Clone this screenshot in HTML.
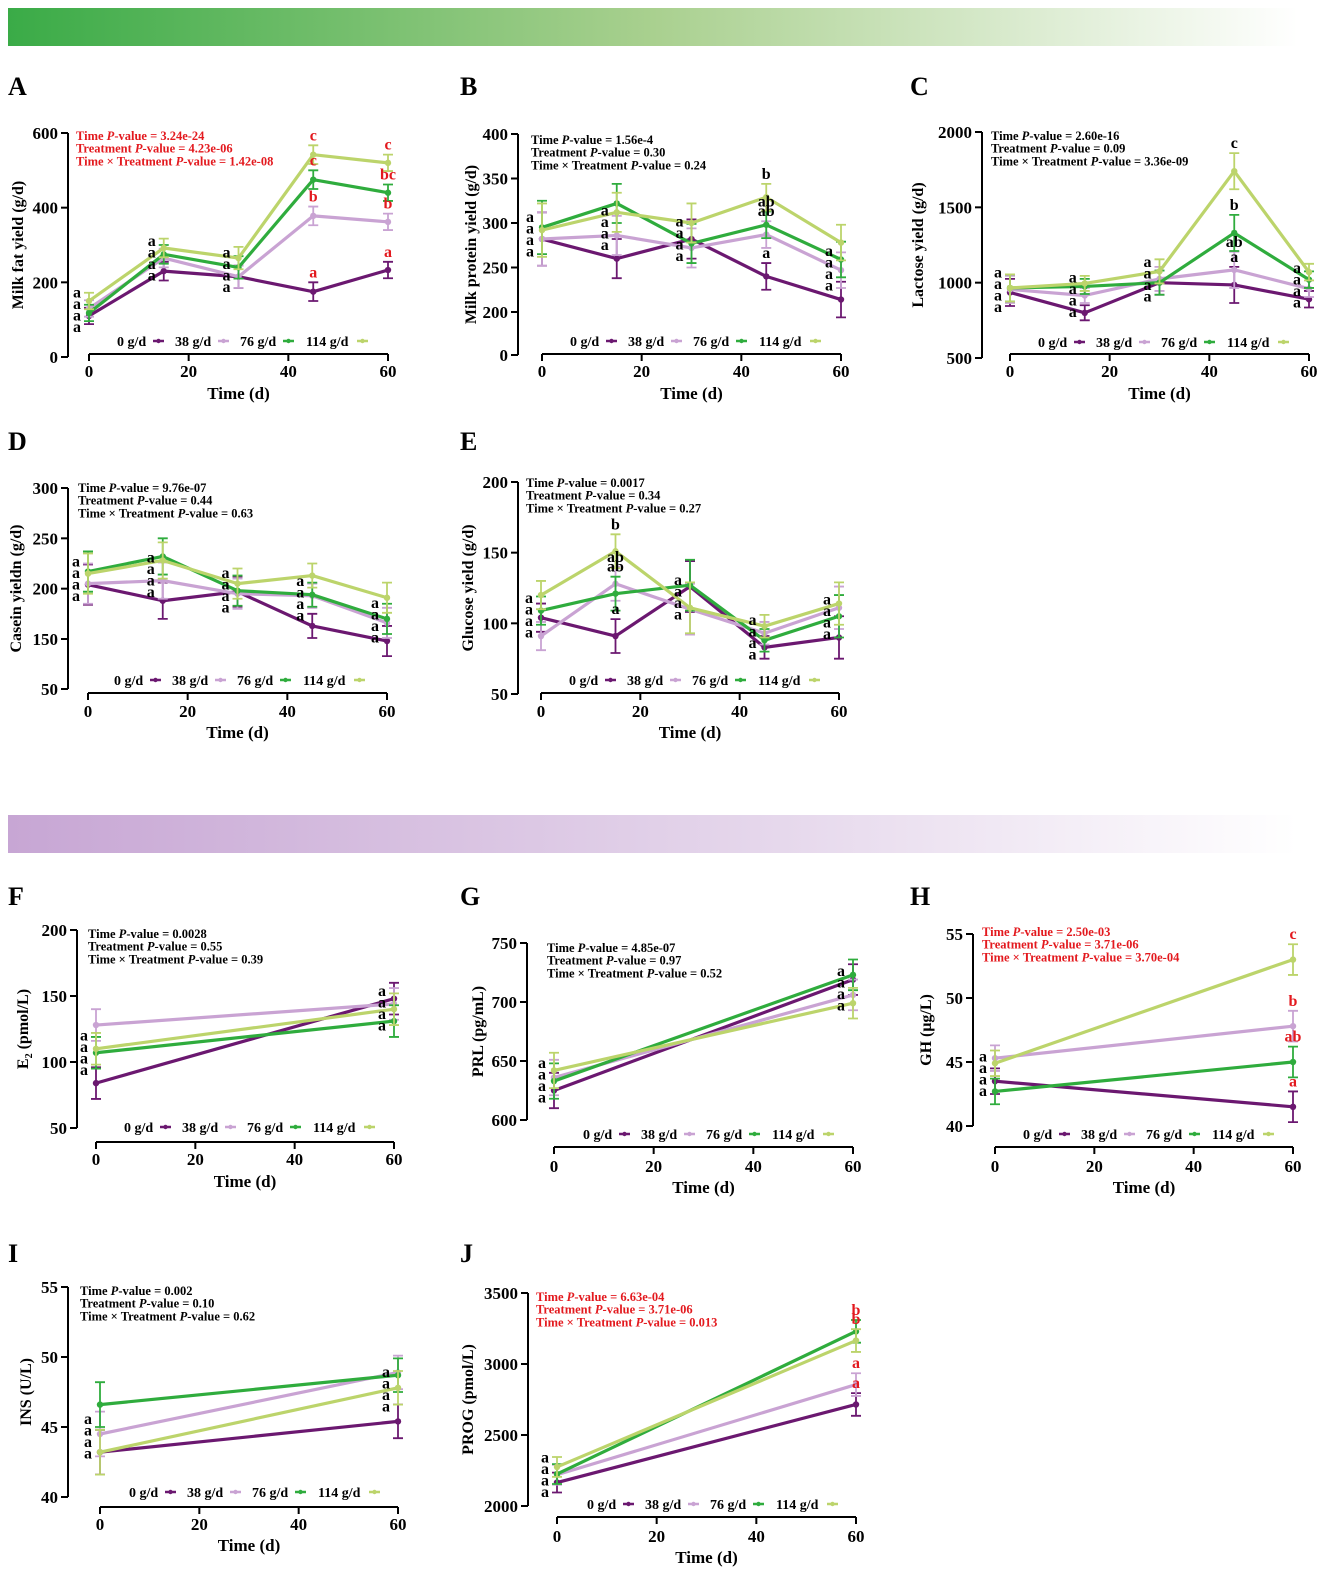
<!DOCTYPE html>
<html><head><meta charset="utf-8"><style>
body{margin:0;background:#fff;}
svg{display:block;font-family:"Liberation Serif",serif;font-weight:bold;}
</style></head><body>
<svg id="fig" width="1325" height="1574" viewBox="0 0 1325 1574" xmlns="http://www.w3.org/2000/svg">
<defs>
<linearGradient id="gG" x1="0" x2="1"><stop offset="0" stop-color="#3aab47"/><stop offset="0.5" stop-color="#a9d08f"/><stop offset="1" stop-color="#ffffff"/></linearGradient>
<linearGradient id="gP" x1="0" x2="1"><stop offset="0" stop-color="#c7a6d4"/><stop offset="0.6" stop-color="#e6d8ec"/><stop offset="1" stop-color="#ffffff"/></linearGradient>
</defs>
<rect x="8" y="8" width="1290" height="38" fill="url(#gG)"/>
<rect x="8" y="815" width="1290" height="38" fill="url(#gP)"/>
</svg>
<script>
// ---- data (series order: 0, 38, 76, 114 g/d) ----
const timesLong=[0,15,30,45,60];
const timesShort=[0,60];
const A0=[110,230,215,175,233];const A1=[130,265,215,378,362];const A2=[118,275,240,475,440];const A3=[150,292,265,542,520];
const AErr=[22,25,30,25,22];
const ALet=[["a","a","a","a"],["a","a","a","a"],["a","a","a","a"],["a","b","c","c"],["a","b","bc","c"]];
const B0=[282,260,282,240,214];const B1=[282,286,272,287,247];const B2=[295,322,277,298,259];const B3=[292,312,300,329,278];
const BErr=[30,22,22,15,20];
const BLet=[["a","a","a","a"],["a","a","a","a"],["a","a","a","a"],["a","ab","ab","b"],["a","a","a","a"]];
const C0=[935,800,1000,985,890];const C1=[955,915,1025,1085,960];const C2=[965,975,1000,1330,1020];const C3=[965,995,1075,1740,1070];
const CErr=[90,50,80,120,55];
const CLet=[["a","a","a","a"],["a","a","a","a"],["a","a","a","a"],["a","ab","b","c"],["a","a","a","a"]];
const D0=[204,188,197,163,148];const D1=[205,208,195,193,166];const D2=[217,232,198,194,170];const D3=[215,228,205,213,191];
const DErr=[20,18,15,12,15];
const DLet=[["a","a","a","a"],["a","a","a","a"],["a","a","a","a"],["a","a","a","a"],["a","a","a","a"]];
const E0=[104,91,126,83,90];const E1=[91,128,110,93,111];const E2=[109,121,127,88,105];const E3=[120,151,111,98,114];
const EErr=[10,12,18,8,15];
const ELet=[["a","a","a","a"],["a","ab","ab","b"],["a","a","a","a"],["a","a","a","a"],["a","a","a","a"]];
const F0=[84,148];const F1=[128,144];const F2=[107,131];const F3=[110,140];
const FErr=[12,12];
const FLet=[["a","a","a","a"],["a","a","a","a"]];
const G0=[625,719];const G1=[636,706];const G2=[633,723];const G3=[642,699];
const GErr=[15,13];
const GLet=[["a","a","a","a"],["a","a","a","a"]];
const H0=[43.5,41.5];const H1=[45.3,47.8];const H2=[42.7,45.0];const H3=[44.9,53.0];
const HErr=[1.0,1.2];
const HLet=[["a","a","a","a"],["a","b","ab","c"]];
const I0=[43.2,45.4];const I1=[44.5,48.9];const I2=[46.6,48.7];const I3=[43.2,47.8];
const IErr=[1.6,1.2];
const ILet=[["a","a","a","a"],["a","a","a","a"]];
const J0=[2165,2715];const J1=[2220,2855];const J2=[2225,3230];const J3=[2275,3165];
const JErr=[70,80];
const JLet=[["a","a","a","a"],["a","a","b","b"]];
const xTicks=[0,20,40,60];
const legendLabels=["0 g/d","38 g/d","76 g/d","114 g/d"];
const pvA=["3.24e-24","4.23e-06","1.42e-08"],pvB=["1.56e-4","0.30","0.24"],pvC=["2.60e-16","0.09","3.36e-09"],pvD=["9.76e-07","0.44","0.63"],pvE=["0.0017","0.34","0.27"],pvF=["0.0028","0.55","0.39"],pvG=["4.85e-07","0.97","0.52"],pvH=["2.50e-03","3.71e-06","3.70e-04"],pvI=["0.002","0.10","0.62"],pvJ=["6.63e-04","3.71e-06","0.013"];
const yTicksA=[0,200,400,600],yTicksB=[200,250,300,350,400],yTicksC=[500,1000,1500,2000],yTicksD=[150,200,250,300],yTicksE=[50,100,150,200],yTicksF=[50,100,150,200],yTicksG=[600,650,700,750],yTicksH=[40,45,50,55],yTicksI=[40,45,50,55],yTicksJ=[2000,2500,3000,3500];

const COLORS=["#6b1870","#c9a3d3","#2fac3d","#bcd46b"];
const RED="#e3191e";
const NS="http://www.w3.org/2000/svg";
const svg=document.getElementById('fig');
function mk(tag,attrs,parent){const e=document.createElementNS(NS,tag);for(const k in attrs)e.setAttribute(k,attrs[k]);(parent||svg).appendChild(e);return e;}

const panels=[
 {id:"A",letter:[8,95],times:timesLong,s:[A0,A1,A2,A3],err:AErr,lets:ALet,red:[3,4],pv:pvA,pvRed:true,yt:yTicksA,yx:68,yv:[0,600],yp:[357,133],bottom:357,xp:[89,388],xl:354,xlab:377,tt:399,ytitle:"Milk fat yield (g/d)",ytx:17,legX:117,legY:341,pvx:76,pvy:136},
 {id:"B",letter:[460,95],times:timesLong,s:[B0,B1,B2,B3],err:BErr,lets:BLet,red:[],pv:pvB,yt:yTicksB,yx:518,yv:[200,400],yp:[312,134],bottom:355,bottomLabel:"0",xp:[542,841],xl:354,xlab:377,tt:399,ytitle:"Milk protein yield (g/d)",ytx:470,legX:570,legY:341,pvx:531,pvy:140},
 {id:"C",letter:[910,95],times:timesLong,s:[C0,C1,C2,C3],err:CErr,lets:CLet,red:[],pv:pvC,yt:yTicksC,yx:982,yv:[500,2000],yp:[358,132],bottom:358,xp:[1010,1309],xl:354,xlab:377,tt:399,ytitle:"Lactose yield (g/d)",ytx:917,legX:1038,legY:342,pvx:991,pvy:136},
 {id:"D",letter:[8,450],times:timesLong,s:[D0,D1,D2,D3],err:DErr,lets:DLet,red:[],pv:pvD,yt:yTicksD,yx:68,yv:[150,300],yp:[639,488],bottom:689,bottomLabel:"50",xp:[88,387],xl:693,xlab:717,tt:738,ytitle:"Casein yieldn (g/d)",ytx:15,legX:114,legY:680,pvx:78,pvy:488},
 {id:"E",letter:[460,450],times:timesLong,s:[E0,E1,E2,E3],err:EErr,lets:ELet,red:[],pv:pvE,yt:yTicksE,yx:518,yv:[50,200],yp:[694,482],bottom:694,xp:[541,839],xl:693,xlab:717,tt:738,ytitle:"Glucose yield (g/d)",ytx:467,legX:569,legY:680,pvx:526,pvy:483},
 {id:"F",letter:[8,905],times:timesShort,s:[F0,F1,F2,F3],err:FErr,lets:FLet,red:[],pv:pvF,yt:yTicksF,yx:77,yv:[50,200],yp:[1128,930],bottom:1128,xp:[96,394],xl:1142,xlab:1165,tt:1187,ytitle:"E2",ytx:22,legX:124,legY:1127,pvx:88,pvy:934},
 {id:"G",letter:[460,905],times:timesShort,s:[G0,G1,G2,G3],err:GErr,lets:GLet,red:[],pv:pvG,yt:yTicksG,yx:527,yv:[600,750],yp:[1120,943],bottom:1120,xp:[554,853],xl:1147,xlab:1172,tt:1193,ytitle:"PRL (pg/mL)",ytx:477,legX:583,legY:1134,pvx:547,pvy:948},
 {id:"H",letter:[910,905],times:timesShort,s:[H0,H1,H2,H3],err:HErr,lets:HLet,red:[1],pv:pvH,pvRed:true,yt:yTicksH,yx:973,yv:[40,55],yp:[1126,934],bottom:1126,xp:[995,1293],xl:1147,xlab:1172,tt:1193,ytitle:"GH (μg/L)",ytx:925,legX:1023,legY:1134,pvx:982,pvy:932},
 {id:"I",letter:[8,1262],times:timesShort,s:[I0,I1,I2,I3],err:IErr,lets:ILet,red:[],pv:pvI,yt:yTicksI,yx:68,yv:[40,55],yp:[1497,1287],bottom:1497,xp:[100,398],xl:1507,xlab:1530,tt:1551,ytitle:"INS (U/L)",ytx:25,legX:129,legY:1492,pvx:80,pvy:1291},
 {id:"J",letter:[460,1262],times:timesShort,s:[J0,J1,J2,J3],err:JErr,lets:JLet,red:[1],pv:pvJ,pvRed:true,yt:yTicksJ,yx:528,yv:[2000,3500],yp:[1506,1293],bottom:1506,xp:[557,856],xl:1517,xlab:1542,tt:1563,ytitle:"PROG (pmol/L)",ytx:467,legX:587,legY:1504,pvx:536,pvy:1297}
];

panels.forEach(p=>{
 const g=mk('g',{});
 
 
 const Y=v=>p.yp[0]+(v-p.yv[0])*(p.yp[1]-p.yp[0])/(p.yv[1]-p.yv[0]);
 const X=t=>p.xp[0]+t*(p.xp[1]-p.xp[0])/60;
 const lt=mk('text',{x:p.letter[0],y:p.letter[1],'font-size':26,fill:'#000'},g);lt.textContent=p.id;
 
 const topPx=Y(p.yt[p.yt.length-1]);
 const ya=mk('line',{x1:p.yx,x2:p.yx,y1:topPx,y2:p.bottom,stroke:'#000','stroke-width':2},g);
 
 const ticks=p.yt.map(v=>({v:String(v),py:Y(v)}));
 if(p.bottomLabel)ticks.push({v:p.bottomLabel,py:p.bottom});
 ticks.forEach(t=>{
  mk('line',{x1:p.yx-7,x2:p.yx,y1:t.py,y2:t.py,stroke:'#000','stroke-width':2},g);
  const tx=mk('text',{x:p.yx-10,y:t.py+6,'font-size':17,'text-anchor':'end'},g);tx.textContent=t.v;
  
 });
 const xa=mk('line',{x1:X(0),x2:X(60),y1:p.xl,y2:p.xl,stroke:'#000','stroke-width':2},g);
 
 xTicks.forEach(t=>{
  mk('line',{x1:X(t),x2:X(t),y1:p.xl,y2:p.xl+7,stroke:'#000','stroke-width':2},g);
  const tx=mk('text',{x:X(t),y:p.xlab,'font-size':17,'text-anchor':'middle'},g);tx.textContent=t;
  
 });
 const xt=mk('text',{x:(p.xp[0]+p.xp[1])/2,y:p.tt,'font-size':17,'text-anchor':'middle'},g);xt.textContent="Time (d)";
 
 const ymid=(topPx+p.bottom)/2;
 const yt=mk('text',{x:0,y:0,'font-size':16,'text-anchor':'middle',transform:`translate(${p.ytx+6},${ymid}) rotate(-90)`},g);
 if(p.ytitle==="E2"){yt.innerHTML='E<tspan font-size="10" dy="4">2</tspan><tspan dy="-4"> (pmol/L)</tspan>';}else yt.textContent=p.ytitle;
 
 const pre=["Time ","Treatment ","Time × Treatment "];
 p.pv.forEach((v,i)=>{
  const t=mk('text',{x:p.pvx,y:p.pvy+4+i*12.7,'font-size':12.5,fill:p.pvRed?RED:'#000'},g);
  t.innerHTML=pre[i]+'<tspan font-style="italic">P</tspan>-value = '+v;
  
 });
 p.s.forEach((vals,si)=>{
  const pts=vals.map((v,i)=>X(p.times[i])+','+Y(v)).join(' ');
  vals.forEach((v,i)=>{
   const x=X(p.times[i]),e=p.err[i];
   const eb=mk('path',{d:`M${x},${Y(v-e)}V${Y(v+e)}M${x-5},${Y(v-e)}h10M${x-5},${Y(v+e)}h10`,stroke:COLORS[si],'stroke-width':1.8,fill:'none'},g);
   
  });
  const pl=mk('polyline',{points:pts,fill:'none',stroke:COLORS[si],'stroke-width':3.2,'stroke-linejoin':'round'},g);
  
  vals.forEach((v,i)=>{
   const c=mk('circle',{cx:X(p.times[i]),cy:Y(v),r:3.2,fill:COLORS[si]},g);
   
  });
 });
 p.times.forEach((t,ti)=>{
  const col=p.lets[ti];
  const isRed=p.red.indexOf(ti)>=0;
  const allA=col.every(l=>l==="a");
  if(allA){
   const mean=p.s.reduce((a,s)=>a+Y(s[ti]),0)/4;
   col.forEach((l,k)=>{
    const tx=mk('text',{x:X(t)-12,y:mean-17+5+k*11.5,'font-size':16,'text-anchor':'middle',fill:isRed?RED:'#000'},g);tx.textContent=l;
    
   });
  }else{
   col.forEach((l,si)=>{
    const v=p.s[si][ti];
    const tx=mk('text',{x:X(t),y:Y(v+p.err[ti])-5,'font-size':16,'text-anchor':'middle',fill:isRed?RED:'#000'},g);tx.textContent=l;
    
   });
  }
 });
 const offs=[0,58,123,189],wids=[33,40,40,48];
 legendLabels.forEach((lab,i)=>{
  const lg=mk('g',{},g);
  
  const tx=mk('text',{x:p.legX+offs[i],y:p.legY+5,'font-size':14},lg);tx.textContent=lab;
  const mx=p.legX+offs[i]+wids[i]+3;
  mk('line',{x1:mx,x2:mx+11,y1:p.legY,y2:p.legY,stroke:COLORS[i],'stroke-width':2.5},lg);
  mk('circle',{cx:mx+5.5,cy:p.legY,r:2.2,fill:COLORS[i]},lg);
 });
});
</script>
</body></html>
